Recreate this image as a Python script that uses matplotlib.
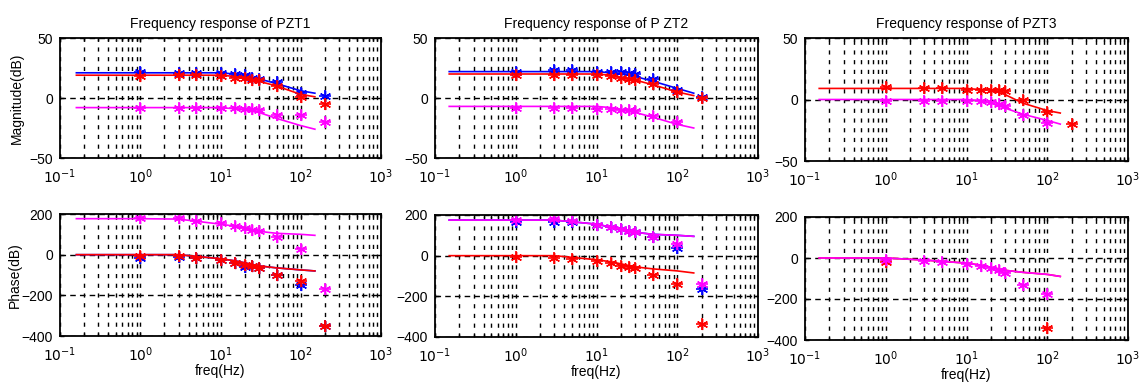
import matplotlib.pyplot as plt
import numpy as np

plt.rcParams['font.family'] = ['Liberation Sans', 'DejaVu Sans']

# measurement frequencies (Hz)
freq = [1, 3, 5, 10, 15, 20, 25, 30, 50, 100, 200]

# ---- PZT1 ----
p1_mag_blue = [22, 21, 21, 21, 20, 19, 17, 16, 13, 4, 2]
p1_mag_red = [18, 19, 19, 18, 17, 17, 15, 15, 10, 1, -5]
p1_mag_mag = [-8, -8, -8, -8, -8, -9, -9, -10, -14, -14, -20]
p1_ph_blue = [-15, -10, -15, -25, -40, -60, -55, -65, -100, -150, -350]
p1_ph_red = [-5, -5, -15, -25, -40, -50, -55, -65, -100, -130, -350]
p1_ph_mag = [180, 180, 165, 155, 140, 130, 120, 115, 85, 30, -170]

p1_fit_f = [0.16, 1, 3, 10, 15, 20, 30, 50, 100, 150]
p1_fit_mag_blue = [21, 21, 21, 21, 20, 18, 16, 12, 6, 4]
p1_fit_mag_red = [19, 19, 19, 19, 18, 16, 14, 10, 3, 1]
p1_fit_mag_mag = [-8, -8, -8, -8, -9, -10, -12, -17, -23, -26]
p1_fit_ph_red = [0, 0, 0, -20, -30, -40, -55, -65, -75, -80]
p1_fit_ph_mag = [177, 177, 175, 150, 140, 130, 115, 105, 100, 95]

# ---- PZT2 ----
p2_mag_blue = [22, 23, 23, 22, 22, 22, 21, 20, 16, 7, 1]
p2_mag_red = [19, 19, 19, 19, 18, 17, 16, 15, 12, 5, 0]
p2_mag_mag = [-8, -8, -8, -9, -9, -10, -10, -11, -15, -20]
p2_ph_blue = [165, 165, 165, 150, 140, 130, 120, 115, 90, 40, -165]
p2_ph_red = [-5, -10, -15, -25, -35, -50, -55, -60, -95, -140, -335]
p2_ph_mag = [175, 180, 170, 150, 140, 130, 120, 115, 90, 55, -140]

p2_fit_f = [0.15, 1, 3, 10, 15, 20, 30, 50, 100, 160]
p2_fit_mag_blue = [22, 22, 22, 22, 21, 20, 18, 14, 8, 4]
p2_fit_mag_red = [20, 20, 20, 20, 19, 17, 15, 11, 5, 2]
p2_fit_mag_mag = [-7, -7, -7, -7, -8, -10, -12, -16, -22, -25]
p2_fit_ph_red = [0, 0, 0, -20, -30, -40, -55, -65, -75, -85]
p2_fit_ph_mag = [175, 175, 175, 155, 140, 130, 115, 105, 100, 95]

# ---- PZT3 ----
p3_mag_red = [10, 9, 9, 8, 8, 8, 8, 7, 0, -10, -20]
p3_mag_mag = [-1, -1, -1, -1, -1, -2, -4, -5, -13, -19]
p3_ph_red_f = [1, 100]
p3_ph_red = [-20, -340]
p3_ph_mag = [-10, -15, -20, -30, -40, -50, -60, -75, -130, -175]

p3_fit_f = [0.15, 1, 3, 10, 15, 20, 30, 50, 100, 145]
p3_fit_mag_red = [9, 9, 9, 9, 8, 8, 4, -3, -9, -11]
p3_fit_mag_mag = [0, 0, 0, 0, -1, -3, -7, -12, -17, -20]
p3_fit_ph_mag = [0, 0, -10, -25, -35, -45, -60, -70, -80, -90]

titles = ['Frequency response of PZT1', 'Frequency response of P ZT2',
          'Frequency response of PZT3']

BLUE, RED, MAG = '#0000ff', '#ff0000', '#ff00ff'
ast = (6, 2, 0)

fig = plt.figure(figsize=(11.39, 3.88), dpi=100)
W, H = 1139.0, 388.0
top_boxes = [(60, 38, 381, 158), (435, 38, 758, 158), (805, 38, 1128, 161)]
bot_boxes = [(60, 214, 381, 336), (435, 215, 758, 337), (805, 217, 1128, 340)]


def make_ax(box):
    x0, y0, x1, y1 = box
    return fig.add_axes([x0 / W, 1 - y1 / H, (x1 - x0) / W, (y1 - y0) / H])


def style(ax, ylim, yticks):
    ax.set_xscale('log')
    ax.set_xlim(1e-1, 1e3)
    ax.set_ylim(*ylim)
    ax.set_yticks(yticks)
    ax.set_xticks([1e-1, 1e0, 1e1, 1e2, 1e3])
    ax.set_xticklabels(['$10^{-1}$', '$10^{0}$', '$10^{1}$', '$10^{2}$', '$10^{3}$'])
    ax.tick_params(which='both', direction='in', top=True, right=True,
                   labelsize=10, length=3, width=1)
    ax.tick_params(which='minor', length=2)
    ax.tick_params(axis='x', pad=7)
    ax.tick_params(axis='y', pad=5)
    ax.grid(True, which='both', axis='x', color='black', linestyle=(0, (3, 4)), lw=1.0)
    ax.grid(True, which='major', axis='y', color='black', linestyle=(0, (4, 3)), lw=1.0)
    for s in ax.spines.values():
        s.set_linewidth(1.3)


def pts(ax, f, y, c):
    ax.plot(f[:len(y)], y, linestyle='none', marker='+', color=c, ms=9, mew=1.2)
    ax.plot(f[:len(y)], y, linestyle='none', marker=ast, color=c, ms=8, mew=1.0)


mag_sets = [
    [(p1_fit_f, p1_fit_mag_blue, freq, p1_mag_blue, BLUE),
     (p1_fit_f, p1_fit_mag_red, freq, p1_mag_red, RED),
     (p1_fit_f, p1_fit_mag_mag, freq, p1_mag_mag, MAG)],
    [(p2_fit_f, p2_fit_mag_blue, freq, p2_mag_blue, BLUE),
     (p2_fit_f, p2_fit_mag_red, freq, p2_mag_red, RED),
     (p2_fit_f, p2_fit_mag_mag, freq, p2_mag_mag, MAG)],
    [(p3_fit_f, p3_fit_mag_red, freq, p3_mag_red, RED),
     (p3_fit_f, p3_fit_mag_mag, freq, p3_mag_mag, MAG)],
]
ph_sets = [
    [(p1_fit_f, p1_fit_ph_red, freq, p1_ph_blue, BLUE),
     (p1_fit_f, p1_fit_ph_red, freq, p1_ph_red, RED),
     (p1_fit_f, p1_fit_ph_mag, freq, p1_ph_mag, MAG)],
    [(p2_fit_f, p2_fit_ph_mag, freq, p2_ph_blue, BLUE),
     (p2_fit_f, p2_fit_ph_red, freq, p2_ph_red, RED),
     (p2_fit_f, p2_fit_ph_mag, freq, p2_ph_mag, MAG)],
    [(p3_fit_f, p3_fit_ph_mag, p3_ph_red_f, p3_ph_red, RED),
     (p3_fit_f, p3_fit_ph_mag, freq, p3_ph_mag, MAG)],
]

for i in range(3):
    ax = make_ax(top_boxes[i])
    style(ax, (-50, 50), [-50, 0, 50])
    for ff, fit, mf, meas, c in mag_sets[i]:
        ax.plot(ff, fit, color=c, lw=1.2)
        pts(ax, mf, meas, c)
    ax.set_title(titles[i], fontsize=10, pad=7)
    if i == 0:
        ax.set_ylabel('Magnitude(dB)', fontsize=10)

    ax = make_ax(bot_boxes[i])
    style(ax, (-400, 200), [-400, -200, 0, 200])
    for ff, fit, mf, meas, c in ph_sets[i]:
        ax.plot(ff, fit, color=c, lw=1.2)
        pts(ax, mf, meas, c)
    ax.set_xlabel('freq(Hz)', fontsize=10, labelpad=0)
    if i == 0:
        ax.set_ylabel('Phase(dB)', fontsize=10, labelpad=0)

fig.savefig('out.png', dpi=100)
